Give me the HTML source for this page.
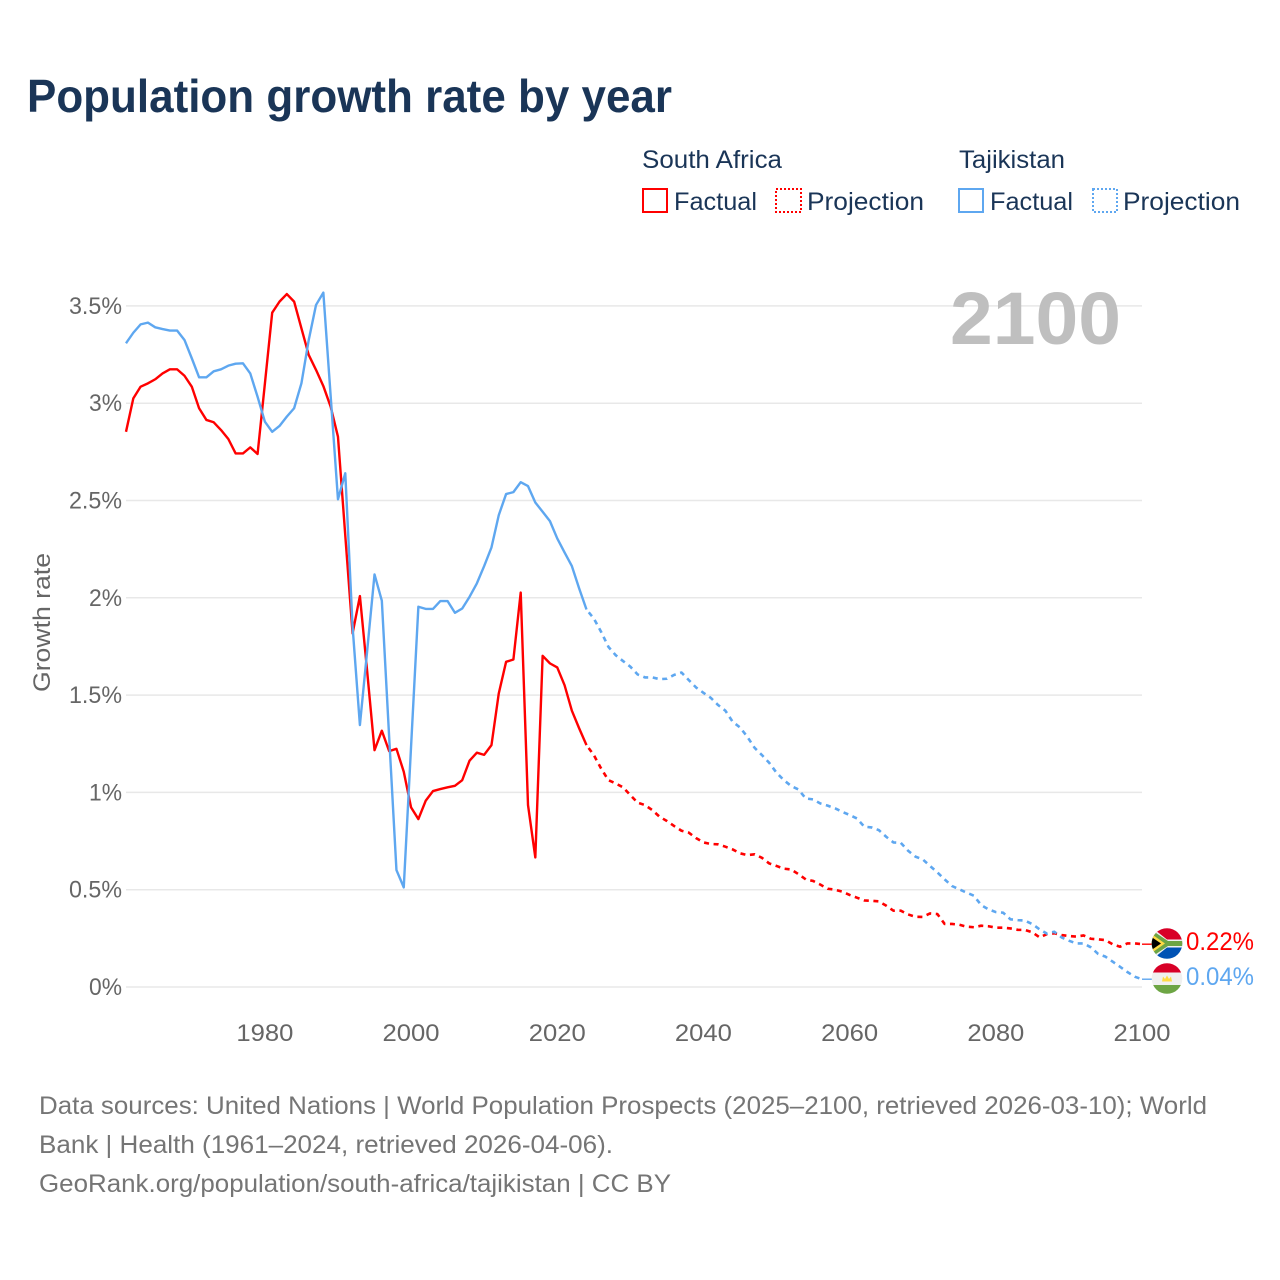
<!DOCTYPE html>
<html lang="en">
<head>
<meta charset="utf-8">
<title>Population growth rate by year</title>
<style>
html,body{margin:0;padding:0;background:#fff;width:1280px;height:1280px;overflow:hidden}
svg{display:block}
text{font-family:"Liberation Sans",sans-serif}
.tick{font-size:24px;fill:#666}
.leg{font-size:25px;fill:#1a3557}
.foot{font-size:25px;fill:#757575}
</style>
</head>
<body>
<svg id="chart" width="1280" height="1280" viewBox="0 0 1280 1280" xmlns="http://www.w3.org/2000/svg">
  <text x="27" y="112" font-size="46" font-weight="700" fill="#1a3557" textLength="645" lengthAdjust="spacingAndGlyphs">Population growth rate by year</text>

  <g>
    <text class="leg" x="642" y="168" textLength="140" lengthAdjust="spacingAndGlyphs">South Africa</text>
    <text class="leg" x="959" y="168" textLength="106" lengthAdjust="spacingAndGlyphs">Tajikistan</text>
    <rect x="643" y="189" width="24" height="23" fill="none" stroke="#ff0000" stroke-width="2"/>
    <text class="leg" x="674" y="210" textLength="83" lengthAdjust="spacingAndGlyphs">Factual</text>
    <rect x="776" y="189" width="25" height="23" fill="none" stroke="#ff0000" stroke-width="2" stroke-dasharray="2 2"/>
    <text class="leg" x="807" y="210" textLength="117" lengthAdjust="spacingAndGlyphs">Projection</text>
    <rect x="959" y="189" width="24" height="23" fill="none" stroke="#5ea7f0" stroke-width="2"/>
    <text class="leg" x="990" y="210" textLength="83" lengthAdjust="spacingAndGlyphs">Factual</text>
    <rect x="1093" y="189" width="24" height="23" fill="none" stroke="#5ea7f0" stroke-width="2" stroke-dasharray="2 2"/>
    <text class="leg" x="1123" y="210" textLength="117" lengthAdjust="spacingAndGlyphs">Projection</text>
  </g>

  <g id="grid"></g>
  <g id="ytickgroup"></g>
  <g id="xtickgroup"></g>

  <text transform="translate(50,692) rotate(-90)" font-size="24" fill="#666" textLength="139" lengthAdjust="spacingAndGlyphs">Growth rate</text>
  <text x="950" y="344" font-size="74" font-weight="700" fill="#bfbfbf" textLength="171" lengthAdjust="spacingAndGlyphs">2100</text>

  <g id="series" fill="none" stroke-linejoin="round"></g>

  <defs>
    <clipPath id="clip-sa"><circle cx="1167" cy="943.5" r="15.3"/></clipPath>
    <clipPath id="clip-tj"><circle cx="1167" cy="978.5" r="15.3"/></clipPath>
  </defs>

  <g clip-path="url(#clip-sa)">
    <rect x="1150" y="927" width="34" height="17" fill="#d80027"/>
    <rect x="1150" y="943.5" width="34" height="17" fill="#0052b4"/>
    <path d="M1150 926 L1167 939.5 H1184 V947.5 H1167 L1150 961Z" fill="#f0f0f0"/>
    <path d="M1150 929 L1168 941 H1184 V946 H1168 L1150 958Z" fill="#6da544"/>
    <path d="M1150 933 L1165 943.5 L1150 954Z" fill="#ffda44"/>
    <path d="M1150 936 L1161 943.5 L1150 951Z" fill="#000"/>
  </g>
  <g clip-path="url(#clip-tj)">
    <rect x="1150" y="962" width="34" height="10.5" fill="#d80027"/>
    <rect x="1150" y="972.5" width="34" height="13" fill="#f0f0f0"/>
    <rect x="1150" y="985" width="34" height="10.5" fill="#6da544"/>
    <path d="M1162 981.5 L1163 976.5 L1165 979 L1167 975.5 L1169 979 L1171 976.5 L1172 981.5Z" fill="#ffda44"/>
  </g>

  <text x="1186" y="950" font-size="25" fill="#ff0000" textLength="68" lengthAdjust="spacingAndGlyphs">0.22%</text>
  <text x="1186" y="985" font-size="25" fill="#5ea7f0" textLength="68" lengthAdjust="spacingAndGlyphs">0.04%</text>

  <g>
    <text class="foot" x="39" y="1114" textLength="1168" lengthAdjust="spacingAndGlyphs">Data sources: United Nations | World Population Prospects (2025–2100, retrieved 2026-03-10); World</text>
    <text class="foot" x="39" y="1153" textLength="574" lengthAdjust="spacingAndGlyphs">Bank | Health (1961–2024, retrieved 2026-04-06).</text>
    <text class="foot" x="39" y="1192" textLength="632" lengthAdjust="spacingAndGlyphs">GeoRank.org/population/south-africa/tajikistan | CC BY</text>
  </g>
</svg>

<script>
const yTickValues = [0, 0.5, 1, 1.5, 2, 2.5, 3, 3.5];
const yTickLabels = ['0%', '0.5%', '1%', '1.5%', '2%', '2.5%', '3%', '3.5%'];
const xTickYears = [1980, 2000, 2020, 2040, 2060, 2080, 2100];
const firstYear = 1961;
const lastYear = 2100;

// 1961–2024
const southAfricaFactual = [
  2.853, 3.025, 3.085, 3.102, 3.123, 3.153, 3.174, 3.174, 3.141, 3.085,
  2.974, 2.914, 2.902, 2.862, 2.816, 2.742, 2.742, 2.773, 2.739, 3.10,
  3.465, 3.522, 3.561, 3.522, 3.385, 3.248, 3.171, 3.088, 2.982, 2.828,
  2.32, 1.817, 2.009, 1.62, 1.217, 1.317, 1.212, 1.224, 1.106, 0.923,
  0.863, 0.957, 1.007, 1.017, 1.026, 1.034, 1.063, 1.163, 1.204, 1.193,
  1.243, 1.509, 1.671, 1.683, 2.027, 0.935, 0.666, 1.702, 1.663, 1.642,
  1.551, 1.42, 1.329, 1.243
];
const tajikistanFactual = [
  3.308, 3.362, 3.405, 3.414, 3.39, 3.381, 3.373, 3.373, 3.325, 3.231,
  3.133, 3.133, 3.164, 3.174, 3.193, 3.203, 3.205, 3.153, 3.033, 2.905,
  2.853, 2.883, 2.931, 2.974, 3.102, 3.325, 3.505, 3.568, 3.037, 2.506,
  2.64, 1.851, 1.346, 1.73, 2.12, 1.985, 1.286, 0.601, 0.512, 1.235,
  1.954, 1.943, 1.943, 1.983, 1.983, 1.923, 1.945, 2.005, 2.074, 2.163,
  2.259, 2.425, 2.533, 2.543, 2.594, 2.574, 2.49, 2.442, 2.394, 2.305,
  2.233, 2.163, 2.048, 1.94
];
// 2025–2100
const southAfricaProjection = [
  1.192, 1.123, 1.063, 1.046, 1.026, 0.986, 0.947, 0.935, 0.909, 0.875,
  0.853, 0.827, 0.803, 0.793, 0.765, 0.743, 0.735, 0.733, 0.721, 0.707,
  0.687, 0.678, 0.682, 0.664, 0.635, 0.622, 0.608, 0.604, 0.58, 0.553,
  0.545, 0.526, 0.505, 0.50, 0.49, 0.473, 0.459, 0.445, 0.443, 0.44,
  0.418, 0.392, 0.392, 0.373, 0.361, 0.36, 0.378, 0.375, 0.324, 0.324,
  0.32, 0.31, 0.307, 0.315, 0.312, 0.305, 0.305, 0.301, 0.294, 0.293,
  0.281, 0.255, 0.272, 0.276, 0.267, 0.262, 0.259, 0.265, 0.248, 0.245,
  0.241, 0.219, 0.207, 0.224, 0.224, 0.22
];
const tajikistanProjection = [
  1.894, 1.825, 1.748, 1.705, 1.675, 1.646, 1.606, 1.591, 1.591, 1.582,
  1.584, 1.604, 1.616, 1.577, 1.539, 1.512, 1.486, 1.449, 1.42, 1.363,
  1.334, 1.286, 1.229, 1.192, 1.152, 1.101, 1.063, 1.033, 1.015, 0.969,
  0.964, 0.943, 0.932, 0.918, 0.90, 0.884, 0.866, 0.824, 0.82, 0.806,
  0.772, 0.743, 0.741, 0.70, 0.67, 0.656, 0.622, 0.589, 0.553, 0.519,
  0.502, 0.485, 0.469, 0.421, 0.399, 0.385, 0.382, 0.348, 0.344, 0.341,
  0.323, 0.296, 0.274, 0.284, 0.255, 0.238, 0.224, 0.224, 0.204, 0.17,
  0.156, 0.13, 0.104, 0.077, 0.053, 0.04
];

const NS = 'http://www.w3.org/2000/svg';
const plotLeft = 126, plotRight = 1142, plotZero = 987, pxPerUnit = 194.6;
function xScale(year) { return plotLeft + (year - firstYear) * (plotRight - plotLeft) / (lastYear - firstYear); }
function yScale(value) { return plotZero - value * pxPerUnit; }

const grid = document.getElementById('grid');
const yGroup = document.getElementById('ytickgroup');
const xGroup = document.getElementById('xtickgroup');
const seriesGroup = document.getElementById('series');

yTickValues.forEach(function (v, i) {
  const line = document.createElementNS(NS, 'line');
  
  
  line.setAttribute('x1', plotLeft);
  line.setAttribute('x2', plotRight);
  line.setAttribute('y1', yScale(v));
  line.setAttribute('y2', yScale(v));
  line.setAttribute('stroke', '#e8e8e8');
  line.setAttribute('stroke-width', '1.5');
  grid.appendChild(line);

  const t = document.createElementNS(NS, 'text');
  
  
  t.setAttribute('class', 'tick');
  t.setAttribute('x', 122);
  t.setAttribute('y', yScale(v) + 8);
  t.setAttribute('text-anchor', 'end');
  t.setAttribute('textLength', yTickLabels[i].length > 2 ? 53 : 33);
  t.setAttribute('lengthAdjust', 'spacingAndGlyphs');
  t.textContent = yTickLabels[i];
  yGroup.appendChild(t);
});

xTickYears.forEach(function (year) {
  const t = document.createElementNS(NS, 'text');
  
  
  t.setAttribute('class', 'tick');
  t.setAttribute('x', xScale(year));
  t.setAttribute('y', 1041);
  t.setAttribute('text-anchor', 'middle');
  t.setAttribute('textLength', 57);
  t.setAttribute('lengthAdjust', 'spacingAndGlyphs');
  t.textContent = String(year);
  xGroup.appendChild(t);
});

function linePoints(values, startYear) {
  return values.map(function (v, i) {
    return xScale(startYear + i).toFixed(2) + ',' + yScale(v).toFixed(2);
  }).join(' ');
}

function drawSeries(name, color, factual, projection) {
  const solid = document.createElementNS(NS, 'polyline');
  
  
  solid.setAttribute('points', linePoints(factual, firstYear));
  solid.setAttribute('stroke', color);
  solid.setAttribute('stroke-width', '2.4');
  seriesGroup.appendChild(solid);

  const joined = [factual[factual.length - 1]].concat(projection);
  const dashed = document.createElementNS(NS, 'polyline');
  
  
  dashed.setAttribute('points', linePoints(joined, firstYear + factual.length - 1));
  dashed.setAttribute('stroke', color);
  dashed.setAttribute('stroke-width', '2.6');
  dashed.setAttribute('stroke-dasharray', '5 4.6');
  dashed.setAttribute('stroke-dashoffset', '6');
  seriesGroup.appendChild(dashed);

  const endValue = projection[projection.length - 1];
  const lead = document.createElementNS(NS, 'line');
  
  
  lead.setAttribute('x1', xScale(lastYear));
  lead.setAttribute('x2', xScale(lastYear) + 10);
  lead.setAttribute('y1', yScale(endValue));
  lead.setAttribute('y2', yScale(endValue));
  lead.setAttribute('stroke', color);
  lead.setAttribute('stroke-width', '1.4');
  seriesGroup.appendChild(lead);
}

drawSeries('south-africa', '#ff0000', southAfricaFactual, southAfricaProjection);
drawSeries('tajikistan', '#5ea7f0', tajikistanFactual, tajikistanProjection);
</script>
</body>
</html>
